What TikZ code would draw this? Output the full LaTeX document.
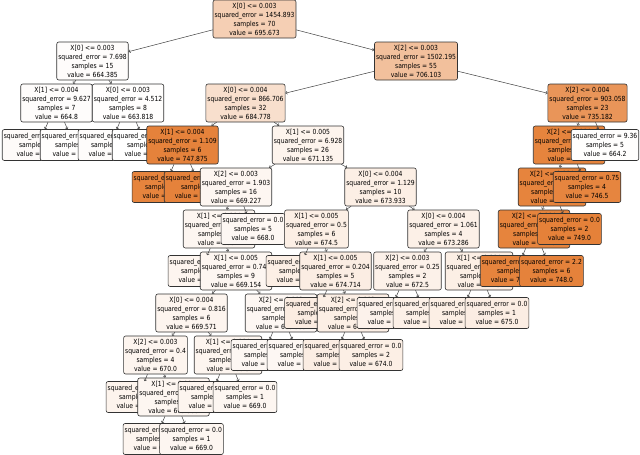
\documentclass[tikz,border=0pt]{standalone}
\usepackage{fontspec}
\newfontfamily\treefont[FakeStretch=0.865]{DejaVu Sans}
\usetikzlibrary{arrows.meta}
\definecolor{tc}{RGB}{229,129,57}

\begin{document}
\begin{tikzpicture} [x=1pt,y=-1pt,{dnode/.style={rectangle,draw=black!80,rounded corners=2pt,line width=0.6pt,inner xsep=1.5pt,inner ysep=1pt,minimum height=38pt,align=center,font=\treefont\fontsize{7}{9}\selectfont}},{lnode/.style={dnode,minimum height=31pt}},{arrowst/.style={draw=black!75,line width=0.5pt,-{Straight Barb[length=1.6pt,width=3pt]}}}]
		\useasboundingbox (0,0) rectangle (640,455);
		%% depth 10
		\node at (155,439) [lnode,fill=tc!8] (22) {squared\_error = 0.0\\samples = 1\\value = 670.0};
		\node at (191.5,439) [lnode,fill=tc!7] (23) {squared\_error = 0.0\\samples = 1\\value = 669.0};
		%% depth 9
		\node at (138,397) [lnode,fill=tc!9] (20) {squared\_error = 0.0\\samples = 2\\value = 671.0};
		\node at (173.5,397) [dnode,fill=tc!7] (21) {X[1] <= 0.004\\squared\_error = 0.222\\samples = 2\\value = 669.333};
		\node at (210,397) [lnode,fill=tc!8] (25) {squared\_error = 0.0\\samples = 1\\value = 670.0};
		\node at (245,397) [lnode,fill=tc!7] (26) {squared\_error = 0.0\\samples = 1\\value = 669.0};
		%% depth 8
		\node at (155.5,355) [dnode,fill=tc!8] (19) {X[2] <= 0.003\\squared\_error = 0.4\\samples = 4\\value = 670.0};
		\node at (228,355) [dnode,fill=tc!8] (24) {X[1] <= 0.004\\squared\_error = 0.25\\samples = 2\\value = 669.5};
		\node at (263,355) [lnode,fill=tc!6] (28) {squared\_error = 0.0\\samples = 1\\value = 668.0};
		\node at (299,355) [lnode,fill=tc!6] (29) {squared\_error = 0.0\\samples = 2\\value = 668.5};
		\node at (335,355) [lnode,fill=tc!14] (37) {squared\_error = 0.0\\samples = 2\\value = 675.0};
		\node at (371,355) [lnode,fill=tc!13] (38) {squared\_error = 0.0\\samples = 2\\value = 674.0};
		%% depth 7
		\node at (191.5,313) [dnode,fill=tc!8] (18) {X[0] <= 0.004\\squared\_error = 0.816\\samples = 6\\value = 669.571};
		\node at (281,313) [dnode,fill=tc!6] (27) {X[2] <= 0.003\\squared\_error = 0.222\\samples = 3\\value = 668.333};
		\node at (316.5,313) [lnode,fill=tc!15] (35) {squared\_error = 0.0\\samples = 1\\value = 676.0};
		\node at (353,313) [dnode,fill=tc!13] (36) {X[2] <= 0.003\\squared\_error = 0.222\\samples = 4\\value = 674.333};
		\node at (389,313) [lnode,fill=tc!10] (41) {squared\_error = 0.0\\samples = 1\\value = 672.0};
		\node at (425,313) [lnode,fill=tc!12] (42) {squared\_error = 0.0\\samples = 1\\value = 673.0};
		\node at (461,313) [lnode,fill=tc!13] (44) {squared\_error = 0.0\\samples = 1\\value = 674.0};
		\node at (497,313) [lnode,fill=tc!14] (45) {squared\_error = 0.0\\samples = 1\\value = 675.0};
		%% depth 6
		\node at (200,271) [lnode,fill=tc!8] (16) {squared\_error = 0.0\\samples = 2\\value = 670.0};
		\node at (236,271) [dnode,fill=tc!7] (17) {X[1] <= 0.005\\squared\_error = 0.746\\samples = 9\\value = 669.154};
		\node at (298,271) [lnode,fill=tc!13] (33) {squared\_error = 0.0\\samples = 1\\value = 674.0};
		\node at (335.5,271) [dnode,fill=tc!14] (34) {X[1] <= 0.005\\squared\_error = 0.204\\samples = 5\\value = 674.714};
		\node at (407.5,271) [dnode,fill=tc!11] (40) {X[2] <= 0.003\\squared\_error = 0.25\\samples = 2\\value = 672.5};
		\node at (479,271) [dnode,fill=tc!13] (43) {X[1] <= 0.004\\squared\_error = 0.25\\samples = 2\\value = 674.5};
		\node at (516,271) [lnode,fill=tc!98] (50) {squared\_error = 2.222\\samples = 6\\value = 747.333};
		\node at (551.5,271) [lnode,fill=tc!99] (51) {squared\_error = 2.2\\samples = 6\\value = 748.0};
		%% depth 5
		\node at (219,229) [dnode,fill=tc!7] (15) {X[1] <= 0.004\\squared\_error = 0.955\\samples = 11\\value = 669.4};
		\node at (253,229) [lnode,fill=tc!6] (30) {squared\_error = 0.0\\samples = 5\\value = 668.0};
		\node at (316.5,229) [dnode,fill=tc!13] (32) {X[1] <= 0.005\\squared\_error = 0.5\\samples = 6\\value = 674.5};
		\node at (443.5,229) [dnode,fill=tc!12] (39) {X[0] <= 0.004\\squared\_error = 1.061\\samples = 4\\value = 673.286};
		\node at (534,229) [dnode,fill=tc!98] (49) {X[2] <= 0.004\\squared\_error = 2.611\\samples = 12\\value = 747.6};
		\node at (569.5,229) [lnode,fill=tc!100] (52) {squared\_error = 0.0\\samples = 2\\value = 749.0};
		%% depth 4
		\node at (164,187) [lnode,fill=tc!98] (11) {squared\_error = 0.0\\samples = 2\\value = 747.0};
		\node at (200,187) [lnode,fill=tc!99] (12) {squared\_error = 0.222\\samples = 4\\value = 748.333};
		\node at (236,187) [dnode,fill=tc!7] (14) {X[2] <= 0.003\\squared\_error = 1.903\\samples = 16\\value = 669.227};
		\node at (380.5,187) [dnode,fill=tc!13] (31) {X[0] <= 0.004\\squared\_error = 1.129\\samples = 10\\value = 673.933};
		\node at (552,187) [dnode,fill=tc!98] (48) {X[2] <= 0.004\\squared\_error = 2.75\\samples = 14\\value = 747.7};
		\node at (587,187) [lnode,fill=tc!97] (53) {squared\_error = 0.75\\samples = 4\\value = 746.5};
		%% depth 3
		\node at (38,145) [lnode,fill=tc!3] (3) {squared\_error = 10.25\\samples = 3\\value = 665.5};
		\node at (74,145) [lnode,fill=tc!1] (4) {squared\_error = 2.25\\samples = 4\\value = 664.2};
		\node at (110,145) [lnode,fill=tc!2] (6) {squared\_error = 0.0\\samples = 2\\value = 665.0};
		\node at (146,145) [lnode,fill=tc!0] (7) {squared\_error = 4.96\\samples = 6\\value = 663.4};
		\node at (182.5,145) [dnode,fill=tc!99] (10) {X[1] <= 0.004\\squared\_error = 1.109\\samples = 6\\value = 747.875};
		\node at (308,145) [dnode,fill=tc!9] (13) {X[1] <= 0.005\\squared\_error = 6.928\\samples = 26\\value = 671.135};
		\node at (569,145) [dnode,fill=tc!98] (47) {X[2] <= 0.004\\squared\_error = 3.188\\samples = 18\\value = 747.5};
		\node at (605,145) [lnode,fill=tc!1] (54) {squared\_error = 9.36\\samples = 5\\value = 664.2};
		%% depth 2
		\node at (56.5,103) [dnode,fill=tc!2] (2) {X[1] <= 0.004\\squared\_error = 9.627\\samples = 7\\value = 664.8};
		\node at (128,103) [dnode,fill=tc!1] (5) {X[0] <= 0.003\\squared\_error = 4.512\\samples = 8\\value = 663.818};
		\node at (245.5,103) [dnode,fill=tc!25] (9) {X[0] <= 0.004\\squared\_error = 866.706\\samples = 32\\value = 684.778};
		\node at (587.5,103) [dnode,fill=tc!84] (46) {X[2] <= 0.004\\squared\_error = 903.058\\samples = 23\\value = 735.182};
		%% depth 1
		\node at (92.5,61) [dnode,fill=tc!2] (1) {X[0] <= 0.003\\squared\_error = 7.698\\samples = 15\\value = 664.385};
		\node at (416,61) [dnode,fill=tc!50] (8) {X[2] <= 0.003\\squared\_error = 1502.195\\samples = 55\\value = 706.103};
		%% root
		\node at (254.5,19) [dnode,fill=tc!38] (0) {X[0] <= 0.003\\squared\_error = 1454.893\\samples = 70\\value = 695.673};
		%% arrows
		\draw [arrowst] (0) -- (1); \draw [arrowst] (0) -- (8);
		\draw [arrowst] (1) -- (2); \draw [arrowst] (1) -- (5);
		\draw [arrowst] (2) -- (3); \draw [arrowst] (2) -- (4);
		\draw [arrowst] (5) -- (6); \draw [arrowst] (5) -- (7);
		\draw [arrowst] (8) -- (9); \draw [arrowst] (8) -- (46);
		\draw [arrowst] (9) -- (10); \draw [arrowst] (9) -- (13);
		\draw [arrowst] (10) -- (11); \draw [arrowst] (10) -- (12);
		\draw [arrowst] (13) -- (14); \draw [arrowst] (13) -- (31);
		\draw [arrowst] (14) -- (15); \draw [arrowst] (14) -- (30);
		\draw [arrowst] (15) -- (16); \draw [arrowst] (15) -- (17);
		\draw [arrowst] (17) -- (18); \draw [arrowst] (17) -- (27);
		\draw [arrowst] (18) -- (19); \draw [arrowst] (18) -- (24);
		\draw [arrowst] (19) -- (20); \draw [arrowst] (19) -- (21);
		\draw [arrowst] (21) -- (22); \draw [arrowst] (21) -- (23);
		\draw [arrowst] (24) -- (25); \draw [arrowst] (24) -- (26);
		\draw [arrowst] (27) -- (28); \draw [arrowst] (27) -- (29);
		\draw [arrowst] (31) -- (32); \draw [arrowst] (31) -- (39);
		\draw [arrowst] (32) -- (33); \draw [arrowst] (32) -- (34);
		\draw [arrowst] (34) -- (35); \draw [arrowst] (34) -- (36);
		\draw [arrowst] (36) -- (37); \draw [arrowst] (36) -- (38);
		\draw [arrowst] (39) -- (40); \draw [arrowst] (39) -- (43);
		\draw [arrowst] (40) -- (41); \draw [arrowst] (40) -- (42);
		\draw [arrowst] (43) -- (44); \draw [arrowst] (43) -- (45);
		\draw [arrowst] (46) -- (47); \draw [arrowst] (46) -- (54);
		\draw [arrowst] (47) -- (48); \draw [arrowst] (47) -- (53);
		\draw [arrowst] (48) -- (49); \draw [arrowst] (48) -- (52);
		\draw [arrowst] (49) -- (50); \draw [arrowst] (49) -- (51);
	\end{tikzpicture}
\end{document}
